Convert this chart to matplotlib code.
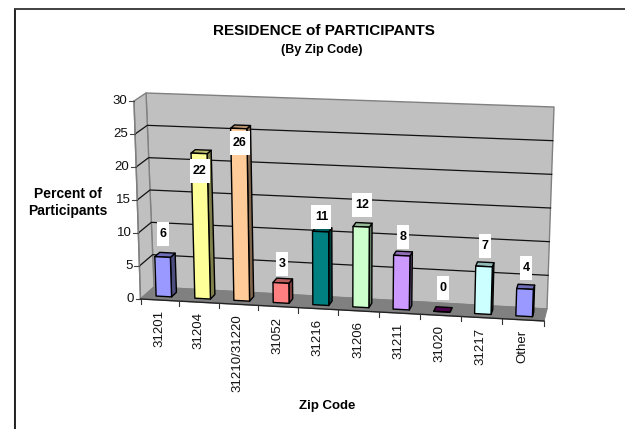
import matplotlib
matplotlib.use("Agg")
import matplotlib.pyplot as plt
from matplotlib.patches import Polygon, Rectangle
import numpy as np

categories = ["31201", "31204", "31210/31220", "31052", "31216", "31206", "31211", "31020", "31217", "Other"]
percent = [6, 22, 26, 3, 11, 12, 8, 0, 7, 4]
y_ticks = [0, 5, 10, 15, 20, 25, 30]
face_colors = ["#9999FF", "#FFFF99", "#FFCC99", "#FF8080", "#008080", "#CCFFCC", "#CC99FF", "#660066", "#CCFFFF", "#9999FF"]
label_lift = [23, -18, -15, 19, 15, 22, 19, 24, 20, 21]

plt.rcParams["font.family"] = ["Liberation Sans", "DejaVu Sans"]

# Chart-space frame: projection corners in pixels
FL0, FR0 = np.array([140.5, 299.]), np.array([544., 321.])
FL1, FR1 = np.array([134., 101.]), np.array([551.5, 115.])
BL0, BR0 = np.array([154., 287.]), np.array([547., 309.])
BL1, BR1 = np.array([146., 93.]), np.array([554., 107.])
YMAX = 30.0
N = len(categories)
PERSP = 1.04


def P(x, v, z):
    """Project category position x, value v and depth z (0 front, 1 back)."""
    r = x / N
    u = r / (r + PERSP * (1 - r))
    t = v / YMAX
    front0 = FL0 + (FR0 - FL0) * u
    front1 = FL1 + (FR1 - FL1) * u
    back0 = BL0 + (BR0 - BL0) * u
    back1 = BL1 + (BR1 - BL1) * u
    a = front0 + (back0 - front0) * z
    b = front1 + (back1 - front1) * z
    return a + (b - a) * t


fig = plt.figure(figsize=(6.25, 4.29), dpi=100)
ax = fig.add_axes([0, 0, 1, 1])
ax.set_xlim(0, 625)
ax.set_ylim(429, 0)
ax.axis("off")


def poly(points, fc, ec="black", lw=1.0, z=2):
    ax.add_patch(Polygon(points, closed=True, facecolor=fc, edgecolor=ec, linewidth=lw, zorder=z, joinstyle="round"))


def shade(c, f):
    return tuple(np.array(matplotlib.colors.to_rgb(c)) * f)


# Chart border
ax.plot([13.6, 13.6], [429, 9], color="#C0C0C0", lw=0.8, zorder=1)
ax.plot([14.6, 14.6], [429, 8.7], color="black", lw=1.2, zorder=1.1, solid_capstyle="butt")
ax.plot([14, 625], [8.7, 8.7], color="#333333", lw=1.3, zorder=1.1, solid_capstyle="butt")

# Walls and floor
poly([P(0, 0, 1), P(N, 0, 1), P(N, YMAX, 1), P(0, YMAX, 1)], "#C0C0C0", ec="#808080", lw=1.0)
poly([P(0, 0, 0), P(0, 0, 1), P(0, YMAX, 1), P(0, YMAX, 0)], "#C0C0C0", ec="#808080", lw=1.0)
poly([P(0, 0, 0), P(N, 0, 0), P(N, 0, 1), P(0, 0, 1)], "#808080", ec="#808080", lw=0.8)

# Gridlines
for v in y_ticks[1:-1]:
    ax.plot(*zip(P(0, v, 0), P(0, v, 1), P(N, v, 1)), color="#111111", lw=0.9, zorder=2.5)

# Value axis
ax.plot(*zip(P(0, 0, 0), P(0, YMAX, 0)), color="#808080", lw=1.0, zorder=3)
for v in y_ticks:
    p = P(0, v, 0)
    ax.plot([p[0] - 5, p[0]], [p[1], p[1]], color="#444444", lw=0.8, zorder=3)
    ax.text(p[0] - 6.7, p[1], str(v), ha="right", va="center", fontsize=9.5, color="#111111", zorder=6)

# Category axis
ax.plot(*zip(P(0, 0, 0), P(N, 0, 0)), color="#222222", lw=1.0, zorder=3)
for i in range(N + 1):
    p = P(i, 0, 0)
    ax.plot([p[0], p[0]], [p[1], p[1] + 5], color="#333333", lw=0.8, zorder=3)

# Bars
W = 0.2
Z0, Z1 = 0.3, 0.68
for i, (v, c) in enumerate(zip(percent, face_colors)):
    x0, x1 = i + 0.5 - W, i + 0.5 + W
    poly([P(x1, 0, Z0), P(x1, 0, Z1), P(x1, v, Z1), P(x1, v, Z0)], shade(c, 0.5), z=4)
    poly([P(x0, v, Z0), P(x1, v, Z0), P(x1, v, Z1), P(x0, v, Z1)], shade(c, 0.72), z=4)
    poly([P(x0, 0, Z0), P(x1, 0, Z0), P(x1, v, Z0), P(x0, v, Z0)], c, z=4)
    top = P(i + 0.5, v, Z0)
    cx, cy = top[0] + 0.9, top[1] - label_lift[i]
    bw = 12 if v < 10 else 20
    ax.add_patch(Rectangle((cx - bw / 2, cy - 12), bw, 24, facecolor="white", edgecolor="none", zorder=5))
    ax.text(cx, cy, str(v), ha="center", va="center", fontsize=9, fontweight="bold", color="black", zorder=6)
    base = P(i + 0.5, 0, 0)
    ax.text(base[0] - 0.5, base[1] + 10, categories[i], rotation=90, ha="center", va="top", fontsize=9.5, color="#111111", zorder=6)

# Titles
ax.text(323.7, 31, "RESIDENCE of PARTICIPANTS", ha="center", va="center", fontsize=11, fontweight="bold")
ax.text(321.7, 50, "(By Zip Code)", ha="center", va="center", fontsize=9, fontweight="bold")
ax.text(327, 406, "Zip Code", ha="center", va="center", fontsize=9.5, fontweight="bold")
ax.text(68, 194, "Percent of", ha="center", va="center", fontsize=10, fontweight="bold")
ax.text(68, 211.5, "Participants", ha="center", va="center", fontsize=10, fontweight="bold")

fig.savefig("out.png", dpi=100)
